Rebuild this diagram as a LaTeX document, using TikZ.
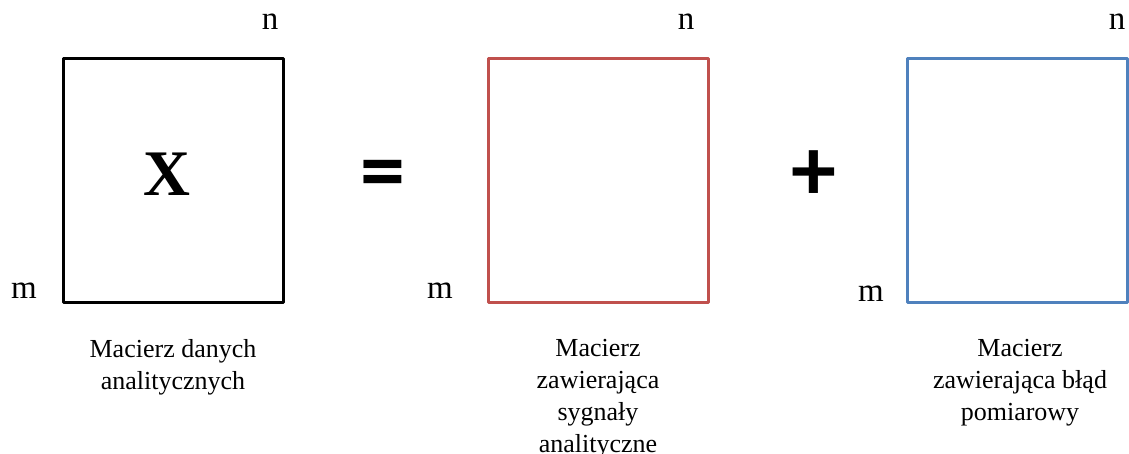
\documentclass[tikz,border=0pt]{standalone}
\usepackage{fontspec}
\setmainfont{Liberation Serif}
\newfontfamily\opfont{Carlito}
\usetikzlibrary{positioning}
\definecolor{matred}{RGB}{192,80,77}
\definecolor{matblue}{RGB}{79,129,189}

\begin{document}
\begin{tikzpicture}[x=1pt, y=-1pt,
  matbox/.style={draw, line width=3pt, line join=round, minimum width=220pt,
                 minimum height=243pt, inner sep=0pt},
  dimlab/.style={font=\fontsize{33}{33}\selectfont, inner sep=0pt},
  caption/.style={align=center, font=\fontsize{26}{32}\selectfont, inner sep=0pt, anchor=north},
  oper/.style={font=\opfont\bfseries\fontsize{90}{90}\selectfont, inner sep=0pt}
]
\useasboundingbox (0,0) rectangle (1129,454);

% the three matrices
\node[matbox]                (xmat)   at (173,180.5)  {};
\node[matbox, draw=matred]   (sygmat) at (598,180.5)  {};
\node[matbox, draw=matblue]  (bladmat) at (1017,180.5) {};

\node[font=\bfseries\fontsize{65}{65}\selectfont, inner sep=0pt] (xlab) at (167,174) {X};

% n and m
\node[dimlab] (n1) at (270,22)  {n};
\node[dimlab] (m1) at (24,291)  {m};
\node[dimlab] (n2) at (686,22)  {n};
\node[dimlab] (m2) at (440,291) {m};
\node[dimlab] (n3) at (1117,22) {n};
\node[dimlab] (m3) at (871,294) {m};

% = and +
\node[oper] (eq)   at (383,180) {=};
\node[oper] (plus) at (814,176) {+};

% captions
\node[caption] (capx)    at (173,339) {Macierz danych\\analitycznych};
\node[caption] (capsyg)  at (598,339) {Macierz\\zawierająca\\sygnały\\analityczne};
\node[caption] (capblad) at (1020,339) {Macierz\\zawierająca błąd\\pomiarowy};

\end{tikzpicture}
\end{document}
